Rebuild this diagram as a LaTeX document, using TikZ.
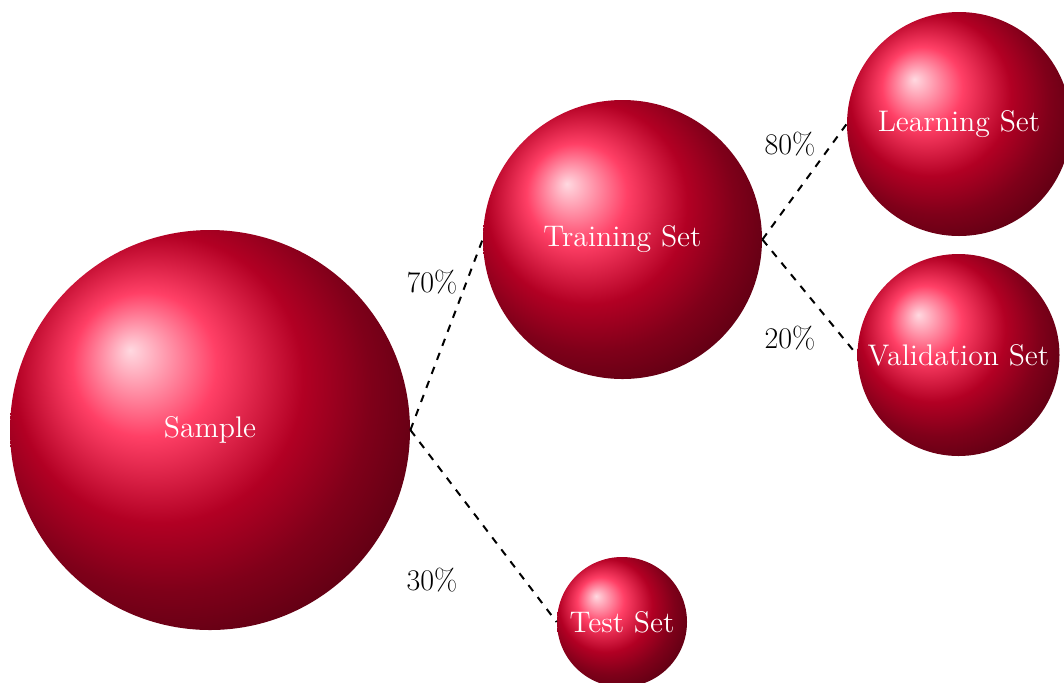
\documentclass[tikz,border=0pt]{standalone}
\definecolor{ballred}{rgb}{1,0,0.2}
\begin{document}
\begin{tikzpicture}[x=0.5pt,y=-0.5pt,
  ball/.style={circle, inner sep=0pt, ball color=ballred, text=white, font=\fontsize{14.9}{18}\selectfont},
  link/.style={dash pattern=on 3.75pt off 3.75pt, line width=1pt},
  pct/.style={font=\fontsize{15}{18}\selectfont, text=black}]
\useasboundingbox (0,0) rectangle (1064,682);
\node[ball, minimum size=200pt] (sample) at (210,430) {Sample};
\node[ball, minimum size=139.5pt] (train) at (622.5,239.5) {Training Set};
\node[ball, minimum size=65pt] (test) at (622,622) {Test Set};
\node[ball, minimum size=112pt] (learn) at (959,124) {Learning Set};
\node[ball, minimum size=101pt] (valid) at (958.5,355) {Validation Set};
\draw[link] (sample.east) -- (train.west);
\draw[link] (sample.east) -- (test.west);
\draw[link] (train.east) -- (learn.west);
\draw[link] (train.east) -- (valid.west);
\node[pct] (p70) at (432,282) {70\%};
\node[pct] (p30) at (432,580) {30\%};
\node[pct] (p80) at (790,144) {80\%};
\node[pct] (p20) at (790,338) {20\%};
\end{tikzpicture}
\end{document}
